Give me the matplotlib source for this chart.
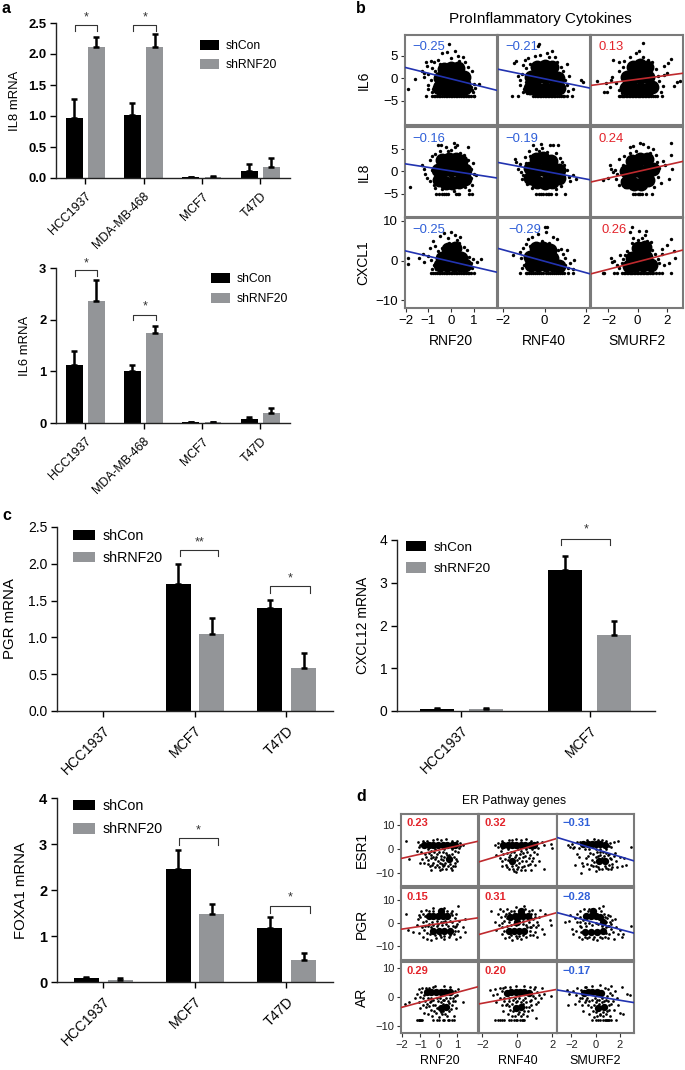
"""Multi-panel mRNA bar charts and correlation scatter grids (panels a-d).

The scatter clouds hold far too many dots to read one by one, so each panel keeps a
hand-read subset: CORE = dense centre (big discs), STRAY = loose dots, FLOOR = x of the
dots sitting on the bottom row.
"""
import numpy as np
import matplotlib
matplotlib.use("Agg")
import matplotlib.pyplot as plt
from matplotlib.ticker import FormatStrFormatter

W, H = 685, 1070

# ---- bar data
LINES_A = ["HCC1937", "MDA-MB-468", "MCF7", "T47D"]
IL8_CON = [0.97, 1.01, 0.015, 0.12]
IL8_CON_ERR = [0.31, 0.20, 0.005, 0.10]
IL8_KD = [2.12, 2.12, 0.015, 0.18]
IL8_KD_ERR = [0.15, 0.21, 0.01, 0.14]
IL6_CON = [1.12, 1.00, 0.01, 0.08]
IL6_CON_ERR = [0.28, 0.12, 0.005, 0.04]
IL6_KD = [2.36, 1.75, 0.02, 0.19]
IL6_KD_ERR = [0.41, 0.13, 0.005, 0.10]

LINES_PGR = ["HCC1937", "MCF7", "T47D"]
PGR_CON = [0, 1.72, 1.40]
PGR_CON_ERR = [0, 0.28, 0.11]
PGR_KD = [0, 1.05, 0.58]
PGR_KD_ERR = [0, 0.22, 0.21]

LINES_CXCL12 = ["HCC1937", "MCF7"]
CXCL12_CON = [0.05, 3.30]
CXCL12_CON_ERR = [0.02, 0.33]
CXCL12_KD = [0.05, 1.78]
CXCL12_KD_ERR = [0.02, 0.33]

FOXA1_CON = [0.08, 2.45, 1.17]
FOXA1_CON_ERR = [0.03, 0.42, 0.25]
FOXA1_KD = [0.05, 1.47, 0.48]
FOXA1_KD_ERR = [0.03, 0.23, 0.14]

# ---- panel b: correlations and regression line ends (left y, right y)
B_GENES = ["IL6", "IL8", "CXCL1"]
B_REGS = ["RNF20", "RNF40", "SMURF2"]
B_R = [[-0.25, -0.21, 0.13], [-0.16, -0.19, 0.24], [-0.25, -0.29, 0.26]]
B_LINE_L = [[2.4, 2.0, -1.6], [1.7, 2.0, -2.4], [2.5, 3.1, -3.3]]
B_LINE_R = [[-2.7, -2.2, 1.1], [-1.5, -1.9, 2.25], [-2.9, -3.3, 2.7]]

IL6_RNF20_CORE = [(-0.55, -2.2), (-0.25, -2.3), (0.05, -2.3), (0.35, -2.3), (0.6, -2.2), (-0.5, 0), (-0.2, 0), (0.1, 0), (0.4, 0), (0.55, 0.2), (-0.3, 2), (0, 2.3), (0.3, 2.2)]
IL6_RNF20_STRAY = [(-1.9, -2.5), (-1.6, -0.2), (-1.3, 1.5), (-1.2, 1.2), (-1.2, 0.2), (-1.1, 3.5), (-1.05, 2.8), (-1, -1.5), (-1, -2.5), (-1, 1), (-0.9, 3.8), (-0.9, -0.5), (-0.85, 2.2), (-0.8, -2.3), (-0.75, 3.6), (-0.7, 1.6), (-0.7, -1.2), (-0.6, -3.2), (-0.6, 4), (-0.5, 3.2), (-0.4, 5.5), (-0.2, 5.8), (-0.1, 7.5), (0, 4.5), (0.15, 6), (0.3, 5), (0.35, 3.9), (0.5, 4.8), (0.6, 3.5), (0.75, 2.5), (0.8, -0.8), (0.9, 1.5), (0.9, -2.7), (1, -1.2), (1.2, -1.3), (1.05, -2.2), (0.95, -3), (-0.85, -3), (0.75, 0.6), (0.85, -2)]
IL6_RNF20_FLOOR = [-1.1, -0.85, -0.75, -0.7, -0.62, -0.55, -0.48, -0.4, -0.33, -0.25, -0.18, -0.1, -0.03, 0.05, 0.12, 0.2, 0.27, 0.35, 0.42, 0.5, 0.58, 0.65, 0.72, 0.8, 0.88, 0.98, 1.0]

IL6_RNF40_CORE = [(-0.7, -2.2), (-0.35, -2.3), (0, -2.3), (0.35, -2.3), (0.7, -2.2), (-0.65, 0.3), (-0.3, 0.2), (0.05, 0.2), (0.4, 0.2), (0.65, 0), (-0.35, 2.6), (0, 2.8), (0.35, 2.6)]
IL6_RNF40_STRAY = [(-1.45, 3.4), (-1.35, 3.8), (-1.3, 0.6), (-1.2, -0.4), (-1.2, -1.5), (-1.1, 1), (-1.05, 3), (-1, -2.5), (-0.95, 4), (-0.9, 2.3), (-0.9, -0.8), (-0.8, 4.6), (-0.7, 3.2), (-0.6, 2.5), (-0.45, 4.9), (-0.2, 5.2), (-0.3, 7.2), (-0.25, 7.7), (0.1, 5.6), (0.2, 4.8), (0.35, 6), (0.5, 4.8), (0.6, 3.7), (0.8, 2.6), (0.9, 1.5), (1, -0.5), (1.1, -1.6), (1.15, -2.8), (1.2, 0.4), (1.35, -2.3), (1.75, -0.3), (1.85, -0.8), (1.1, 3.2), (-1.05, -3), (-0.85, -3.2)]
IL6_RNF40_FLOOR = [-1.55, -1.3, -0.55, -0.45, -0.38, -0.3, -0.22, -0.15, -0.08, 0, 0.08, 0.15, 0.22, 0.3, 0.38, 0.45, 0.52, 0.6, 0.7, 0.8, 0.88, 0.95, 1.1, 1.3]

IL6_SMURF2_CORE = [(-0.8, -2.2), (-0.3, -2.3), (0.2, -2.3), (0.7, -2.3), (1.0, -2), (-0.75, 0.2), (-0.25, 0.2), (0.25, 0.2), (0.75, 0.2), (-0.3, 2.6), (0.2, 2.9), (0.65, 2.4)]
IL6_SMURF2_STRAY = [(-2.8, -0.6), (-2.3, -3), (-2.2, -1), (-2.1, -3), (-1.9, -2), (-1.8, -0.5), (-1.75, 0.3), (-1.7, 4), (-1.45, -1), (-1.3, 1.5), (-1.3, -2.6), (-1.25, 3.5), (-1.1, -3.2), (-1, 2.5), (-0.9, 3.8), (-0.5, 4.7), (-0.1, 5.5), (0.1, 6.1), (0.35, 7.8), (0.4, 4.8), (0.7, 4), (1, 3.5), (1.3, 2), (1.4, 0.4), (1.5, -0.7), (1.6, -3), (1.75, -1.8), (1.85, 2.8), (2, 1.2), (2.3, 4.2), (2.1, 3.4), (2.5, -1.8), (2.9, -0.7), (1.8, 0.8), (2.7, -0.8)]
IL6_SMURF2_FLOOR = [-1.3, -1.2, -1.1, -1.0, -0.9, -0.8, -0.7, -0.6, -0.5, -0.4, -0.3, -0.2, -0.1, 0, 0.1, 0.2, 0.3, 0.4, 0.5, 0.6, 0.7, 0.8, 0.95, 1.05, 1.2, 1.35, 1.7]

IL8_RNF20_CORE = [(-0.55, -2), (-0.25, -2.6), (0.05, -2.7), (0.35, -2.5), (0.6, -1.8), (-0.6, 0.3), (-0.3, 0.2), (0, 0.2), (0.3, 0.2), (0.6, 0.2), (-0.4, 2.6), (-0.1, 2.8), (0.2, 2.8), (0.45, 2.4)]
IL8_RNF20_STRAY = [(-1.8, -3.6), (-1.3, 1.4), (-1.2, 0.6), (-1.15, -0.6), (-1.05, -1.5), (-0.95, 2.6), (-0.95, -2.2), (-0.85, 3.4), (-0.85, 0.4), (-0.75, -3), (-0.7, -3.8), (-0.7, 4), (-0.6, 5.9), (-0.5, 4.6), (-0.45, 5.9), (-0.4, -4), (-0.25, 5.4), (-0.15, 4.5), (0, 4.9), (0.1, -4.5), (0.1, 6.4), (0.15, 5.5), (0.25, 6), (0.4, 4.2), (0.55, 3.7), (0.6, -3.6), (0.75, 5.4), (0.75, 2.5), (0.85, 0.6), (0.85, -1.6), (0.9, -3), (0.95, 1.8), (1, -0.5), (1.1, -0.8), (0.8, -4.3)]
IL8_RNF20_FLOOR = [-0.65, -0.55, -0.4, -0.3, -0.25, -0.15, 0.2, 0.3, 0.35, 0.8, 0.9]

IL8_RNF40_CORE = [(-0.7, -1.4), (-0.35, -2.5), (0, -2.7), (0.35, -2.5), (0.7, -1.6), (-0.7, 0.8), (-0.35, 0.4), (0, 0.2), (0.35, 0), (0.7, 0.2), (-0.4, 2.8), (-0.05, 3), (0.3, 2.4)]
IL8_RNF40_STRAY = [(-1.4, 2.8), (-1.35, 2.2), (-1.3, 0.6), (-1.2, 1.6), (-1.15, -0.2), (-1.1, -1.8), (-1.05, -0.9), (-0.95, 3.2), (-0.9, 1.8), (-0.85, -2.8), (-0.75, 4.5), (-0.7, 3.5), (-0.55, 5.9), (-0.4, 5), (-0.25, 4.6), (-0.15, 6.2), (-0.1, 5.2), (0.1, 4.4), (0.25, 6.0), (0.4, 5.9), (0.55, 4.2), (0.65, 6.0), (0.75, 3), (0.85, 2.2), (0.95, 1.4), (1.1, 0.4), (1.2, -1.2), (1.25, -2.2), (1.35, -0.8), (1.5, -1.8), (0.8, -3.4), (-0.6, -3.8), (0.55, -4)]
IL8_RNF40_FLOOR = [-0.4, -0.25, -0.15, -0.05, 0.05, 0.15, 0.2, 0.3, 0.55, 1.0]

IL8_SMURF2_CORE = [(-0.75, -2.4), (-0.25, -2.8), (0.25, -2.8), (0.75, -2), (-0.8, 0), (-0.3, 0), (0.2, 0), (0.7, 0.2), (1.05, 0.5), (-0.4, 2.4), (0.15, 2.8), (0.65, 2.8)]
IL8_SMURF2_STRAY = [(-2.4, -2), (-2, -1.4), (-1.9, 1.4), (-1.85, 0.6), (-1.7, -0.2), (-1.55, 0.2), (-1.45, -1.7), (-1.4, -0.6), (-1.3, 2.8), (-1.25, -3), (-1.1, -2), (-1, 1.4), (-0.9, 3.4), (-0.85, -3.6), (-0.55, 4.2), (-0.55, 5.4), (-0.3, 5.8), (-0.1, 4.5), (0.2, 6.4), (0.4, 6.1), (0.7, 5.4), (0.85, 4.2), (1.1, 5), (1.25, 3.6), (1.35, 2.2), (1.4, -1.2), (1.5, 0.8), (1.6, -2.6), (1.75, 2.4), (1.9, 1.4), (2.3, 6.4), (2.3, 3.6), (2.2, -1.8), (1.15, -3.6), (2.4, 0.6)]
IL8_SMURF2_FLOOR = [-0.3, -0.15, 0, 0.1, 0.15, 0.3, 0.55, 1.0]

CXCL1_RNF20_CORE = [(-0.5, -1.2), (-0.2, -1.2), (0.1, -1.2), (0.4, -1.2), (0.6, -1.2), (-0.4, 0.8), (-0.1, 1), (0.2, 1), (0.45, 0.8), (-0.15, 3), (0.15, 3.2)]
CXCL1_RNF20_STRAY = [(-1.9, -0.8), (-1.9, 0.7), (-1.4, 0.6), (-1.25, 1.8), (-1.2, -0.2), (-1, 1.2), (-0.95, 3.2), (-0.9, 0.3), (-0.85, -2), (-0.8, 5), (-0.7, 3.6), (-0.6, 2.4), (-0.5, 6.2), (-0.4, 3.2), (-0.3, 7), (-0.15, 5.6), (-0.1, 4.5), (0, 7.2), (0.15, 6.5), (0.25, 5.2), (0.35, 4.4), (0.4, 6), (0.55, 3.4), (0.7, 2.6), (0.8, 1), (0.85, -0.6), (0.9, -1.8), (0.95, 0.4), (1.15, -0.2), (1.3, 0.5), (-0.75, -1.2), (-0.65, -2.2)]
CXCL1_RNF20_FLOOR = [-0.9, -0.78, -0.7, -0.62, -0.55, -0.48, -0.4, -0.33, -0.25, -0.18, -0.1, -0.03, 0.05, 0.12, 0.2, 0.27, 0.35, 0.42, 0.5, 0.58, 0.65, 0.72, 0.8, 0.88, 1.0]

CXCL1_RNF40_CORE = [(-0.65, -1.2), (-0.3, -1.2), (0.05, -1.2), (0.4, -1.2), (0.7, -1.3), (-0.7, 1), (-0.35, 1.2), (0, 1), (0.35, 0.8), (-0.4, 3.2), (-0.05, 3.2), (0.25, 2.8)]
CXCL1_RNF40_STRAY = [(-1.5, 1.5), (-1.2, 2.2), (-1.15, 0.6), (-1.05, 3.2), (-1, -1), (-0.95, 1.2), (-0.9, 4.2), (-0.8, 5.4), (-0.7, 3.6), (-0.6, 6), (-0.5, 3.8), (-0.3, 6.8), (-0.1, 5), (0, 8.4), (0.05, 7.2), (0.1, 8.6), (-0.15, 4.2), (0.2, 4.4), (0.4, 6), (0.45, 3.2), (0.6, 5.4), (0.65, 2.8), (0.8, 3), (0.9, 1.6), (1, 0.6), (1, -1), (1.1, 2.8), (1.15, -1.8), (1.25, -0.6), (1.4, 0.2), (1.35, -2.2), (-1.1, -1.8)]
CXCL1_RNF40_FLOOR = [-1.2, -0.9, -0.85, -0.75, -0.65, -0.55, -0.45, -0.35, -0.25, -0.15, -0.05, 0.05, 0.15, 0.25, 0.35, 0.45, 0.55, 0.65, 0.75, 0.85, 0.95, 1.15, 1.35]

CXCL1_SMURF2_CORE = [(-0.6, -1.3), (-0.1, -1.2), (0.4, -1.2), (0.9, -1.2), (-0.4, 0.8), (0.1, 1), (0.6, 1), (0, 3.2), (0.5, 3.4)]
CXCL1_SMURF2_STRAY = [(-1.75, -0.4), (-1.85, 0.8), (-1.6, 0), (-1.4, -1), (-1.2, 1.4), (-1.1, -0.5), (-1, 0.5), (-0.85, 1.4), (-0.75, 2.4), (-0.6, 2), (-0.4, 4.4), (-0.5, 7.2), (-0.3, 5.6), (-0.4, 8.4), (0, 5.2), (0.1, 7.6), (0.3, 5.6), (0.5, 6.4), (0.55, 7.6), (0.65, 5), (0.9, 4.8), (1, 2.8), (1.2, 1.8), (1.4, 0.4), (1.5, -0.6), (1.7, 1.6), (1.8, -1.2), (2, 4), (2.3, 5.4), (2.5, 2.4), (2.2, -0.5), (2.6, 0.6), (1.7, 3), (-1.3, -1.9)]
CXCL1_SMURF2_FLOOR = [-2.4, -2.3, -1.6, -1.4, -1.05, -0.95, -0.85, -0.75, -0.65, -0.55, -0.45, -0.35, -0.25, -0.15, -0.05, 0.05, 0.15, 0.25, 0.35, 0.45, 0.55, 0.65, 0.75, 0.85, 1, 1.1, 1.3, 1.5, 1.7, 2.3]

# ---- panel d
D_GENES = ["ESR1", "PGR", "AR"]
D_R = [[0.23, 0.32, -0.31], [0.15, 0.31, -0.28], [0.29, 0.20, -0.17]]
D_LINE_L = [[-3.8, -5.2, 5.0], [-2.8, -5.1, 4.5], [-3.75, -2.5, 2.3]]
D_LINE_R = [[3.4, 4.6, -4.8], [2.2, 4.5, -4.5], [3.4, 2.5, -2.05]]

ESR1_RNF20_CORE = [(-0.8, 2), (-0.55, 2), (-0.3, 2), (-0.05, 2), (0.2, 2), (0.45, 2), (0.7, 2), (0.9, 2), (0.55, -4.2)]
ESR1_RNF20_STRAY = [(-1.8, 3.4), (-1.6, -4), (-1.2, -0.5), (-1.1, 1), (-1.15, 3), (-0.95, -1), (-1, -5.8), (-0.8, -5.5), (-0.75, -2), (-0.6, -6), (-0.6, -4.5), (-0.5, -7), (-0.45, -0.5), (-0.3, -3), (-0.3, -5.5), (-0.2, -7.5), (-0.1, -6.5), (-0.1, -2), (0.05, -8.5), (0.1, -4), (0.2, -7), (0.2, -1.2), (0.35, -5.5), (0.4, -8), (0.45, -2.5), (0.6, -6), (0.7, -2), (0.75, -7), (0.9, -7), (0.9, -0.8), (0.95, -4), (1.1, 0.5), (1.3, 1.9), (1.0, -5), (0.7, -8.5), (-0.4, -8.5), (-0.9, -4.2), (-0.2, -4), (0.05, -5.5), (0.3, -3), (0.15, -6), (-0.45, -2.5), (0, -1), (1.15, 2.8), (-0.1, 4.3), (0.4, 4.2),
                    (-0.7, -3.3), (-0.55, -1.4), (-0.4, -3.8), (-0.35, -6.4), (-0.25, -1.2), (-0.15, -3), (-0.05, -4.8), (0, -7.4), (0.1, -2.6), (0.15, -8), (0.25, -4.6), (0.3, -6.4), (0.4, -1.6), (0.5, -7.1), (0.55, -2.4), (0.65, -7.6), (0.8, -3.2), (0.85, -5.6), (1.05, -1.2), (-0.65, 3.7), (-0.85, 3.5), (-0.3, 3.9), (0.1, 4), (0.7, 3.7), (1, 3.4), (-1, 2), (1.15, 1.4), (-0.6, 0.2), (-0.2, 0.1), (0.3, 0.1), (0.7, 0.2)]

ESR1_RNF40_CORE = [(-0.8, 1.8), (-0.55, 2), (-0.3, 2), (-0.05, 2), (0.2, 2), (0.45, 2), (0.7, 2), (0.95, 1.8), (-0.3, -5)]
ESR1_RNF40_STRAY = [(-1.3, 2), (-1.1, 0.8), (-1.1, 2.8), (-1.2, -2.5), (-0.95, -0.5), (-1, -3.5), (-0.9, -5), (-0.85, -7), (-0.8, -2), (-0.7, -4), (-0.65, -6.5), (-0.6, -7.5), (-0.5, -3), (-0.45, -8), (-0.35, -1), (-0.3, -7), (-0.2, -9), (-0.15, -3), (-0.1, -6.5), (-0.1, -9.5), (0, -4.5), (0.05, -7.5), (0.15, -2), (0.2, -8.5), (0.25, -5), (0.35, -3), (0.4, -7), (0.5, -5), (0.55, -1), (0.65, -3.5), (0.75, -6), (0.8, -8.5), (0.9, -3.5), (1, -6.5), (1.15, -2), (1.25, -5), (1.4, 3), (1.5, -8), (1.2, 0.5), (1.5, 2), (1.95, 2.2), (2, 0.7), (0.2, -0.5), (-0.05, 4.3), (0.5, 4.2), (-0.5, 3.8),
                    (-0.6, -1.4), (-0.55, -4.6), (-0.4, -2.2), (-0.35, -5.8), (-0.25, -8.2), (-0.2, -1.2), (-0.05, -2.4), (0, -8.4), (0.1, -5.8), (0.1, -3.4), (0.25, -7.2), (0.3, -1.6), (0.45, -2.8), (0.45, -8.8), (0.6, -6.4), (0.75, -2.2), (0.85, -5), (0.95, -1), (-0.85, 3.5), (-0.3, 3.9), (0.2, 4), (0.8, 3.6), (1.1, 2.9), (-0.9, 0.4), (-0.55, 0), (0.05, 0.2), (0.5, 0.1), (0.85, 0.2)]

ESR1_SMURF2_CORE = [(-1.0, 2.2), (-0.65, 2.2), (-0.3, 2.2), (0.05, 2.2), (0.4, 2.2), (0.75, 1.8), (0.3, -5), (0.8, -5)]
ESR1_SMURF2_STRAY = [(-2.3, 1.8), (-2.1, 1), (-1.95, 2.2), (-1.9, 0.4), (-1.8, 1.2), (-1.7, -6.5), (-1.5, -2), (-1.55, 3), (-1.4, 0.5), (-1.35, -3), (-1.2, -10), (-1.1, -5.5), (-1, -7), (-0.8, -3.5), (-0.7, -6), (-0.5, -8), (-0.45, -1.5), (-0.3, -4.5), (-0.2, -7), (0, -9), (0, -3), (0.1, -1), (0.2, -7.5), (0.4, -2.5), (0.55, -8), (0.65, -1), (0.75, -7), (1, -2.5), (1, -8), (1.2, -3.5), (1.3, 1), (1.4, -6), (1.5, 3.2), (1.6, -1.5), (1.7, -5), (1.8, -7.5), (1.9, 3.5), (2, -3), (2.2, -7), (2.4, -3.5), (2.5, -6.5), (2.9, 1), (1.25, -8), (-0.1, 4.2), (0.5, 3.8),
                     (-0.6, -2.6), (-0.4, -6.4), (-0.2, -2), (-0.15, -5.4), (0.05, -7), (0.2, -2.8), (0.3, -8.4), (0.35, -1), (0.5, -3.6), (0.7, -2.6), (0.85, -7.6), (0.9, -1.4), (1.1, -6.6), (1.15, -2), (1.3, -4), (1.35, -7.2), (1.5, -2.6), (-0.9, 0.2), (-0.5, 0), (0, 0.2), (0.4, 0), (0.9, 0.2), (1.1, 1.4), (-1.3, 3.2), (-0.7, 3.9), (0.2, 4), (0.9, 3.6), (1.2, 2.8)]

PGR_RNF20_CORE = [(-0.55, 3), (-0.3, 3), (-0.05, 3), (0.2, 3), (0.45, 3), (-0.3, -3.5), (0, -3.5), (0.3, -3.5), (0.6, -3.5), (0.1, 5)]
PGR_RNF20_STRAY = [(-1.8, 4), (-1.65, -3), (-1.4, -4), (-1.2, -1), (-1.1, -4.5), (-1.15, 1.5), (-1.05, 3.5), (-0.95, 5), (-0.85, -6), (-0.8, -3), (-0.85, 0.5), (-0.75, 3), (-0.7, 5.5), (-0.65, -7), (-0.6, -1.5), (-0.5, -5), (-0.4, -7.5), (-0.35, 0.5), (-0.15, -6.5), (-0.05, -0.5), (0.1, -6), (0.2, 0.5), (0.3, -7), (0.4, -0.5), (0.55, -6), (0.7, 0.5), (0.7, 5), (0.8, -5), (0.85, 2), (0.9, -2), (0.95, 4), (1, -0.5), (1.05, -3.5), (1.15, -6), (1.1, 1), (1.3, -2), (1.4, 1.5), (1.4, -4), (1.05, 7.3), (0.95, -7), (-0.3, 6.5), (0.3, 6.5),
                   (-1, 2.4), (-0.9, -1.6), (-0.7, 1), (-0.65, -4.6), (-0.55, 5.4), (-0.55, -0.4), (-0.45, -1.6), (-0.3, 5.2), (-0.3, -0.8), (-0.2, -5.4), (-0.1, 0.7), (-0.1, -1.4), (0.05, -5.5), (0.1, 0.5), (0.15, -0.8), (0.3, -5.6), (0.35, 1), (0.45, 5.2), (0.5, -1.2), (0.6, -5.4), (0.6, 1), (0.7, 3.4), (0.75, -1.4), (0.85, -3.4), (0.65, 4.4), (-0.85, 3.8), (-0.75, -1.2), (0.95, -1.4)]

PGR_RNF40_CORE = [(-0.4, 2.5), (-0.15, 3), (0.1, 3), (0.35, 3), (0.6, 3), (-0.5, -3.5), (-0.2, -3.5), (0.1, -3.5), (0.4, -3.5), (0.2, 5), (0, 0.5)]
PGR_RNF40_STRAY = [(-1.5, 5), (-1.3, 0.5), (-1.2, -3), (-1.1, 4), (-1.05, -1), (-1, 6), (-0.95, 2.5), (-0.9, -5), (-0.85, 0), (-0.8, 5), (-0.75, -3.5), (-0.7, 3), (-0.7, -6.5), (-0.6, 6), (-0.5, 0.5), (-0.45, -6), (-0.35, 5), (-0.3, -7.5), (-0.2, -0.5), (-0.1, 7), (0, -6.5), (0.2, -7), (0.3, -0.5), (0.45, 6), (0.5, -6), (0.65, 0.5), (0.7, -5.5), (0.8, -2), (0.85, 5.5), (0.9, 1.5), (1, -4), (1, 4), (1.1, -6), (1.2, -1), (1.25, 2.5), (1.3, 5.5), (1.4, -2.5), (1.5, -5), (1.85, 1.2), (1.95, -1), (1.6, 4), (0.4, 7.2),
                   (-0.85, -1.8), (-0.75, 1), (-0.6, 2), (-0.6, -1.2), (-0.5, 4.4), (-0.35, -5.2), (-0.35, -0.8), (-0.2, 5.4), (-0.1, -5.8), (-0.05, -0.8), (0.1, -5.6), (0.35, 0.6), (0.35, -5.4), (0.5, -1), (0.65, 5.4), (0.75, -3.4), (0.8, 2), (0.8, 3.8), (0.9, -0.8), (0.9, -5.4), (1, 2.6), (1.05, -1.6), (1.1, 0.4), (-0.65, 4), (0.55, -1.8), (0.7, -1.6)]

PGR_SMURF2_CORE = [(-0.8, 3), (-0.4, 3), (0, 3), (0.35, 2.5), (-0.2, 5), (-0.9, -4), (-0.4, -4), (0.1, -4), (0.6, -3.5), (0.6, 0.5)]
PGR_SMURF2_STRAY = [(-2.5, 0.5), (-2.2, 1), (-2.1, 3.5), (-1.95, -2.5), (-1.9, -5), (-1.7, 2), (-1.6, -3.5), (-1.5, 4), (-1.4, -6), (-1.3, 0.5), (-1.25, 5), (-1.2, -2), (-1.1, -7), (-0.95, 6), (-0.9, 0), (-0.7, -6.5), (-0.5, 0), (-0.5, 6), (-0.2, -7), (0, 0), (0.1, -7.5), (0.3, 6.5), (0.55, -6.5), (0.7, 4), (0.8, -6), (0.95, 2), (1, -1.5), (1.1, -5), (1.2, 0.5), (1.3, -2.5), (1.45, -4), (1.5, -7), (1.6, 1.5), (1.7, -2), (1.85, -5), (2, -3), (2.2, -6), (2.3, -5), (2.9, -1.5), (0.6, 7.5), (1.2, 3),
                    (-1.3, 2.5), (-1.2, -4), (-1, 1.4), (-0.9, -6), (-0.8, -1.4), (-0.65, 5.4), (-0.5, -6), (-0.3, -0.8), (-0.3, 6.2), (-0.1, -6.2), (0.2, -0.4), (0.35, -6), (0.45, 5), (0.5, -1.4), (0.75, 2.4), (0.85, -1.6), (0.9, -4.6), (1, 3.4), (1.05, -6.5), (1.25, -0.4), (1.35, 1.4), (1.15, -1.4), (0.9, 0.4), (-1.3, -1.2), (-1.5, 0.2)]

AR_RNF20_CORE = [(-0.65, 1.5), (-0.4, 1.5), (-0.15, 1.5), (0.1, 1.5), (0.35, 1.5), (0.6, 1.5), (0.1, -4), (0.4, -3.5)]
AR_RNF20_STRAY = [(-1.85, -2.5), (-1.6, -2), (-1.3, -0.5), (-1.2, 1), (-1.1, -2), (-1.05, 2.5), (-1, -4), (-1, 0), (-0.95, 1.5), (-0.9, 3), (-0.85, -3), (-0.8, -5.5), (-0.75, -1.5), (-0.7, -3.5), (-0.6, -6), (-0.55, 3), (-0.5, -2), (-0.45, -4.5), (-0.35, -6.5), (-0.3, -1), (-0.2, -3), (-0.15, -5.5), (-0.05, -1.5), (0, -7), (0.1, -2), (0.15, -6), (0.25, -5), (0.3, -1), (0.45, -6.5), (0.5, -1.5), (0.55, -5), (0.7, -3), (0.75, -0.5), (0.8, -6.5), (0.9, -1.5), (0.95, -4), (1, 0.5), (1.05, 2.5), (1.3, -1.7), (-0.2, 3.8), (0.3, 3.6), (-0.6, -0.5),
                  (-0.85, -0.6), (-0.8, 0.4), (-0.65, -2.4), (-0.55, -3.2), (-0.45, -0.4), (-0.4, -1.6), (-0.3, -3), (-0.25, -5), (-0.1, -0.4), (-0.1, -3.8), (0.05, -0.6), (0.1, -5.2), (0.2, -1.2), (0.2, -2.6), (0.35, -5.8), (0.4, -0.4), (0.55, -2.2), (0.6, -0.6), (0.65, -4.4), (0.75, -1.6), (0.85, 0.2), (0.9, 2), (-0.7, 2.8), (-0.3, 3.3), (0.6, 3.2)]
AR_RNF20_FLOOR = [-1.2, -1.1, -1.05, -1, -0.95, -0.9, -0.3, -0.1, 0, 0.2, 0.3, 0.5, 0.55, 0.7, 0.8]

AR_RNF40_CORE = [(-0.6, 1.2), (-0.35, 1.5), (-0.1, 1.5), (0.15, 1.5), (0.4, 1.5), (0.65, 1.2), (-0.1, -4), (0.2, -3.5)]
AR_RNF40_STRAY = [(-1.55, 2.4), (-1.4, 0.4), (-1.3, 2.5), (-1.2, -1.8), (-1.15, 1), (-1, 3), (-1, -0.5), (-0.9, -3), (-0.85, 2), (-0.8, -5), (-0.75, -1.5), (-0.7, 3.3), (-0.65, -3), (-0.55, -6), (-0.5, -1.5), (-0.4, -4.5), (-0.3, -6.5), (-0.25, -1), (-0.15, -6.5), (0, -1.5), (0.05, -6), (0.2, -6.5), (0.3, -1), (0.4, -5), (0.5, -2), (0.55, -6.5), (0.65, -3.5), (0.8, -1), (0.85, -4.5), (0.95, 2.5), (1, -0.5), (1.1, 1.5), (1.2, -2), (1.25, 0.5), (1.4, 3), (1.55, 1), (1.9, 0.3), (1.05, -7.5), (-0.1, 3.8), (0.4, 3.8), (1.35, -0.5),
                  (-0.75, -0.4), (-0.6, -2.4), (-0.5, -3.2), (-0.45, -0.4), (-0.3, -2.4), (-0.25, -5), (-0.15, -0.5), (-0.05, -2), (0.1, -0.6), (0.1, -5.2), (0.2, -2), (0.3, -5.8), (0.35, -2.6), (0.45, -0.4), (0.5, -3.6), (0.6, -5), (0.7, -1.6), (0.8, -2.8), (0.9, 0.2), (1, 3.2), (-0.8, 3), (-0.4, 3.4), (0.75, 3.2), (1.05, -2.4)]
AR_RNF40_FLOOR = [-1.25, -1.1, -1, -0.85, -0.75, -0.45, -0.35, -0.2, -0.1, 0, 0.15, 0.25, 0.35, 0.4]

AR_SMURF2_CORE = [(-0.95, 1.2), (-0.6, 1.5), (-0.25, 1.5), (0.1, 1.5), (0.45, 1.2), (0.2, -4), (0.7, -3.5)]
AR_SMURF2_STRAY = [(-2.4, 2.4), (-2.2, 1), (-2.3, -3), (-1.9, 2), (-1.7, -2.5), (-1.6, 0.5), (-1.5, 3), (-1.4, -1.5), (-1.3, -0.5), (-1.1, -3), (-1, -5), (-0.85, 3.3), (-0.8, -1), (-0.6, -3), (-0.5, -6), (-0.3, -1), (-0.2, -5), (-0.1, -7), (0, -2), (0.15, -6.5), (0.3, -1), (0.4, -6), (0.5, -2), (0.6, -6.5), (0.85, -1), (0.95, -5), (1, 2.5), (1.1, -3), (1.2, -6.5), (1.25, 3.5), (1.35, 0.5), (1.45, -1.5), (1.5, -4.5), (1.6, 2), (1.75, -0.5), (1.9, -3), (2, -5.5), (2.2, 3.2), (2.3, -6), (2.6, 1), (2.85, 0.7), (0.4, 4),
                   (-1.1, -0.6), (-0.9, -2), (-0.7, -0.4), (-0.5, -1.4), (-0.4, -3.6), (-0.15, -2.8), (-0.05, -0.5), (0, -5.4), (0.1, -1.2), (0.3, -2.6), (0.35, -6.4), (0.55, -0.6), (0.6, -5.4), (0.7, -1.4), (0.85, -5.8), (0.95, 0.2), (1.05, -1.4), (1.15, -4.6), (1.2, 1.4), (-0.8, 3.2), (-0.3, 3.6), (0.8, 3), (-1.2, 2.4), (1.3, -2.4)]
AR_SMURF2_FLOOR = [-0.3, 0.05, 0.2, 0.35, 0.6, 0.75, 0.85, 0.95, 1.05, 1.15, 1.3, 1.7]

GREY = "#939598"
BLUE_LINE, RED_LINE = "#2233b0", "#bf2a2e"
BLUE_TEXT, RED_TEXT = "#2f5fd8", "#e3242b"
FRAME = "#7a7a7a"

plt.rcParams["font.family"] = ["Liberation Sans", "DejaVu Sans"]
plt.rcParams["axes.unicode_minus"] = True

fig = plt.figure(figsize=(W / 100, H / 100), dpi=100)


def px_axes(left, top, right, bottom):
    return fig.add_axes([left / W, 1 - bottom / H, (right - left) / W, (bottom - top) / H])


def place_ylabel(ax, text, x_px, y_px, fs):
    # ylabel anchor is the text's right edge, so push it half a line over
    ax.set_ylabel(text, fontsize=fs)
    ax.yaxis.set_label_coords((x_px + 0.6 * fs * 100 / 72) / W, 1 - y_px / H, transform=fig.transFigure)


def place_xlabel(ax, text, x_px, y_px, fs):
    ax.set_xlabel(text, fontsize=fs)
    ax.xaxis.set_label_coords(x_px / W, 1 - (y_px - 0.6 * fs * 100 / 72) / H, transform=fig.transFigure)


def bar_panel(box, names, con, con_err, kd, kd_err, ymax, yticks, ylabel, label_xy,
              width, offs, tick_fs, lab_fs, name_fs, bold=False, fmt="%d"):
    ax = px_axes(*box)
    x = np.arange(len(names))
    h1 = ax.bar(x - offs[0], con, width, color="black", label="shCon")
    h2 = ax.bar(x + offs[1], kd, width, color=GREY, label="shRNF20")
    for xs, v, e in ((x - offs[0], con, con_err), (x + offs[1], kd, kd_err)):
        for xi, vi, ei in zip(xs, v, e):
            if ei > 0:
                ax.errorbar(xi, vi, yerr=[[0], [ei]], fmt="none", ecolor="black",
                            elinewidth=1.8, capsize=2.5, capthick=1.8)
    ax.set_xlim(-0.5, len(names) - 0.49)
    ax.set_ylim(0, ymax)
    ax.set_yticks(yticks)
    ax.yaxis.set_major_formatter(FormatStrFormatter(fmt))
    ax.set_xticks(x)
    ax.set_xticklabels(names, rotation=45, ha="right", rotation_mode="anchor", fontsize=name_fs)
    ax.tick_params(axis="y", labelsize=tick_fs, length=4, width=1, pad=3)
    ax.tick_params(axis="x", length=4, width=1, pad=5)
    if bold:
        for t in ax.get_yticklabels():
            t.set_fontweight("bold")
    for s in ("top", "right"):
        ax.spines[s].set_visible(False)
    for s in ("left", "bottom"):
        ax.spines[s].set_linewidth(1.0)
        ax.spines[s].set_color("#222222")
    place_ylabel(ax, ylabel, label_xy[0], label_xy[1], lab_fs)
    ax.patch.set_alpha(0)
    return ax, [h1, h2]


def add_legend(ax, handles, x_px, y_px, fs, w, h, pitch, gap):
    em = fs * 100 / 72
    ax.legend(handles=handles, loc="upper left", bbox_to_anchor=(x_px / W, 1 - y_px / H),
              bbox_transform=fig.transFigure, frameon=False, fontsize=fs, borderpad=0,
              borderaxespad=0, handlelength=w / em, handleheight=h / em,
              handletextpad=gap / em, labelspacing=(pitch - max(h, em * 0.85)) / em)


def bracket(ax, x0, x1, top, leg, star, star_y_px, fs=9):
    ax.plot([x0, x0, x1, x1], [leg, top, top, leg], color="#333333", lw=0.8, clip_on=False)
    xc = ax.transData.transform(((x0 + x1) / 2, 0))[0] / W
    fig.text(xc, 1 - star_y_px / H, star, ha="center", va="center", fontsize=fs, color="#333333")


# ---- panel a
ax, hs = bar_panel((56, 23, 290, 178), LINES_A, IL8_CON, IL8_CON_ERR, IL8_KD, IL8_KD_ERR, 2.5,
                   [0, 0.5, 1, 1.5, 2, 2.5], "IL8 mRNA", (13, 101), 0.29, (0.19, 0.19),
                   9.4, 9.4, 8.9, bold=True, fmt="%.1f")
add_legend(ax, hs, 200, 40, 8.7, 19, 10.5, 17.5, 7)
bracket(ax, -0.17, 0.21, 2.47, 2.37, "*", 17)
bracket(ax, 0.82, 1.22, 2.47, 2.37, "*", 17)

ax, hs = bar_panel((56, 268, 290, 423), LINES_A, IL6_CON, IL6_CON_ERR, IL6_KD, IL6_KD_ERR, 3,
                   [0, 1, 2, 3], "IL6 mRNA", (23, 346), 0.29, (0.19, 0.19),
                   9.4, 9.4, 8.9, bold=True)
add_legend(ax, hs, 211, 273, 8.7, 19, 10.5, 18.5, 7)
bracket(ax, -0.17, 0.21, 2.96, 2.84, "*", 263)
bracket(ax, 0.82, 1.22, 2.10, 1.99, "*", 306)

# ---- panel c
ax, hs = bar_panel((57, 527, 333, 711), LINES_PGR, PGR_CON, PGR_CON_ERR, PGR_KD, PGR_KD_ERR, 2.5,
                   [0, 0.5, 1, 1.5, 2, 2.5], "PGR mRNA", (8, 619), 0.272, (0.18, 0.19),
                   10, 10.8, 10.2, fmt="%.1f")
add_legend(ax, hs, 73, 529, 10.3, 22, 10.5, 20, 8)
bracket(ax, 0.84, 1.26, 2.19, 2.10, "**", 542)
bracket(ax, 1.82, 2.26, 1.70, 1.61, "*", 578)

ax, hs = bar_panel((397, 540, 655, 711), LINES_CXCL12, CXCL12_CON, CXCL12_CON_ERR, CXCL12_KD,
                   CXCL12_KD_ERR, 4, [0, 1, 2, 3, 4], "CXCL12 mRNA", (362, 625), 0.265,
                   (0.19, 0.19), 10, 10, 10)
add_legend(ax, hs, 406, 541, 9.7, 20, 11, 20, 8)
bracket(ax, -0.22 + 1, 0.16 + 1, 4.02, 3.88, "*", 529)

ax, hs = bar_panel((57, 798, 333, 982), LINES_PGR, FOXA1_CON, FOXA1_CON_ERR, FOXA1_KD, FOXA1_KD_ERR, 4,
                   [0, 1, 2, 3, 4], "FOXA1 mRNA", (19, 891), 0.272, (0.18, 0.19),
                   10.5, 10.7, 10.2, bold=True)
add_legend(ax, hs, 73, 799, 10.3, 22, 11, 21.5, 8)
bracket(ax, 0.83, 1.26, 3.13, 2.98, "*", 830)
bracket(ax, 1.82, 2.26, 1.65, 1.51, "*", 897)


def scatter_cell(ax, core, stray, floor, floor_y, r, l, rr, xlim, core_s, dot_s,
                 txt_xy, txt_fs, bold=False):
    cx, cy = zip(*core)
    sx, sy = zip(*stray)
    ax.scatter(cx, cy, s=core_s, color="black", lw=0, zorder=2)
    ax.scatter(sx, sy, s=dot_s, color="black", lw=0, zorder=2)
    if floor:
        ax.scatter(floor, [floor_y] * len(floor), s=dot_s, color="black", lw=0, zorder=2)
    ax.plot(xlim, [l, rr], color=BLUE_LINE if r < 0 else RED_LINE, lw=1.2, zorder=3, clip_on=True)
    ax.text(txt_xy[0], txt_xy[1], f"{r:.2f}".replace("-", "\u2212"), transform=ax.transAxes,
            fontsize=txt_fs, color=BLUE_TEXT if r < 0 else RED_TEXT, va="center",
            fontweight="bold" if bold else "normal", zorder=4)
    for s in ax.spines.values():
        s.set_color(FRAME)
        s.set_linewidth(1.5)


# ---- panel b
B_CELLS = [[(IL6_RNF20_CORE, IL6_RNF20_STRAY, IL6_RNF20_FLOOR), (IL6_RNF40_CORE, IL6_RNF40_STRAY, IL6_RNF40_FLOOR), (IL6_SMURF2_CORE, IL6_SMURF2_STRAY, IL6_SMURF2_FLOOR)],
           [(IL8_RNF20_CORE, IL8_RNF20_STRAY, IL8_RNF20_FLOOR), (IL8_RNF40_CORE, IL8_RNF40_STRAY, IL8_RNF40_FLOOR), (IL8_SMURF2_CORE, IL8_SMURF2_STRAY, IL8_SMURF2_FLOOR)],
           [(CXCL1_RNF20_CORE, CXCL1_RNF20_STRAY, CXCL1_RNF20_FLOOR), (CXCL1_RNF40_CORE, CXCL1_RNF40_STRAY, CXCL1_RNF40_FLOOR), (CXCL1_SMURF2_CORE, CXCL1_SMURF2_STRAY, CXCL1_SMURF2_FLOOR)]]
b_cols = [(405, 497), (498, 590), (591, 683)]
b_rows = [(35, 125), (127, 217), (218, 308)]
b_xlim = [(-2.03, 2.01), (-2.24, 2.19), (-3.2, 3.13)]
b_ylim = [(-10.4, 9.6), (-10.3, 10), (-11.9, 10.75)]
b_xt = [[-2, -1, 0, 1], [-2, 0, 2], [-2, 0, 2]]
b_yt = [[-5, 0, 5], [-5, 0, 5], [-10, 0, 10]]
b_floor = [-4.05, -5.05, -3]
for i, (top, bot) in enumerate(b_rows):
    for j, (lft, rgt) in enumerate(b_cols):
        ax = px_axes(lft, top, rgt, bot)
        core, stray, floor = B_CELLS[i][j]
        txt_x = 0.11 if i == 2 and j > 0 else 0.08
        scatter_cell(ax, core, stray, floor, b_floor[i], B_R[i][j], B_LINE_L[i][j], B_LINE_R[i][j],
                     b_xlim[j], 100, 6, (txt_x, 0.87), 9.4)
        ax.set_xlim(b_xlim[j])
        ax.set_ylim(b_ylim[i])
        ax.set_xticks(b_xt[j] if i == 2 else [])
        ax.set_yticks(b_yt[i] if j == 0 else [])
        ax.tick_params(labelsize=9.5, length=3, width=0.8, pad=2, color="#333333")
        if j == 0:
            place_ylabel(ax, B_GENES[i], 362, (top + bot) / 2, 10)
        if i == 2:
            place_xlabel(ax, B_REGS[j], (lft + rgt) / 2, 342, 10)
fig.text(540 / W, 1 - 19 / H, "ProInflammatory Cytokines", ha="center", va="center", fontsize=11)

# ---- panel d
D_CELLS = [[(ESR1_RNF20_CORE, ESR1_RNF20_STRAY, []), (ESR1_RNF40_CORE, ESR1_RNF40_STRAY, []), (ESR1_SMURF2_CORE, ESR1_SMURF2_STRAY, [])],
           [(PGR_RNF20_CORE, PGR_RNF20_STRAY, []), (PGR_RNF40_CORE, PGR_RNF40_STRAY, []), (PGR_SMURF2_CORE, PGR_SMURF2_STRAY, [])],
           [(AR_RNF20_CORE, AR_RNF20_STRAY, AR_RNF20_FLOOR), (AR_RNF40_CORE, AR_RNF40_STRAY, AR_RNF40_FLOOR), (AR_SMURF2_CORE, AR_SMURF2_STRAY, AR_SMURF2_FLOOR)]]
d_cols = [(401, 478), (479, 557), (557, 634)]
d_rows = [(814, 886), (888, 960), (962, 1033)]
d_xlim = [(-2.05, 2.12), (-2.19, 2.27), (-3.19, 3.19)]
d_ylim = [(-15.3, 14.8), (-16.3, 15.3), (-12.5, 11.9)]
for i, (top, bot) in enumerate(d_rows):
    for j, (lft, rgt) in enumerate(d_cols):
        ax = px_axes(lft, top, rgt, bot)
        core, stray, floor = D_CELLS[i][j]
        scatter_cell(ax, core, stray, floor, -8, D_R[i][j], D_LINE_L[i][j], D_LINE_R[i][j],
                     d_xlim[j], 28, 3.8, (0.07, 0.875), 8, bold=True)
        ax.set_xlim(d_xlim[j])
        ax.set_ylim(d_ylim[i])
        ax.set_xticks(b_xt[j] if i == 2 else [])
        ax.set_yticks([-10, 0, 10] if j == 0 else [])
        ax.tick_params(labelsize=8, length=3, width=0.8, pad=2, color="#333333", labelcolor="#222222")
        if j == 0:
            place_ylabel(ax, D_GENES[i], 361, (top + bot) / 2, 10)
        if i == 2:
            place_xlabel(ax, B_REGS[j], (lft + rgt) / 2, 1063, 9)
fig.text(514 / W, 1 - 801 / H, "ER Pathway genes", ha="center", va="center", fontsize=8.8)

for letter, x, y in (("a", 2, 13), ("b", 356, 13), ("c", 2, 520), ("d", 356, 801)):
    fig.text(x / W, 1 - y / H, letter, fontsize=11.5, fontweight="bold", ha="left", va="baseline")

fig.savefig("out.png", dpi=100)
